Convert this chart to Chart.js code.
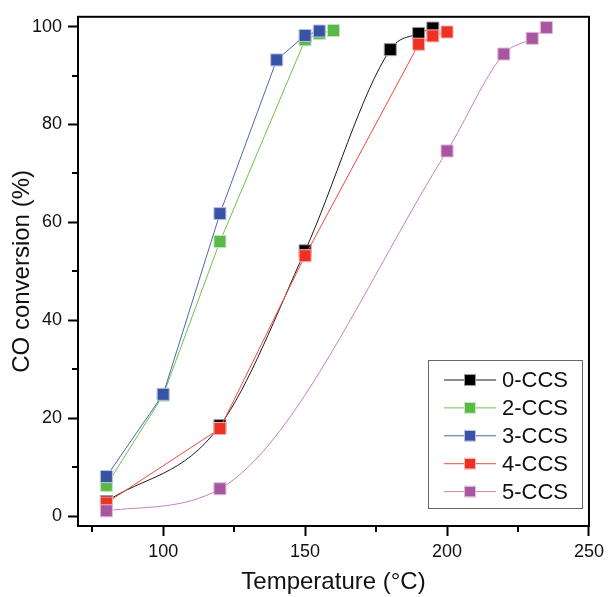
<!DOCTYPE html>
<html>
<head>
<meta charset="utf-8">
<script src="https://cdn.jsdelivr.net/npm/chart.js@4"></script>
<style>
  html, body { margin: 0; padding: 0; background: #fff; }
</style>
</head>
<body>
<canvas id="myChart" width="609" height="597"></canvas>
<script>
// values
const seriesNames = ["0-CCS", "2-CCS", "3-CCS", "4-CCS", "5-CCS"];

const temp0 = [80, 120, 150, 180, 190, 195];
const conv0 = [3.0, 18.5, 54.2, 95.3, 98.6, 99.7];

const temp2 = [80, 100, 120, 150, 155, 160];
const conv2 = [6.3, 24.7, 56.1, 97.3, 98.6, 99.2];

const temp3 = [80, 100, 120, 140, 150, 155];
const conv3 = [8.1, 24.9, 61.8, 93.2, 98.2, 99.1];

const temp4 = [80, 120, 150, 190, 195, 200];
const conv4 = [2.7, 17.9, 53.2, 96.4, 98.1, 98.9];

const temp5 = [80, 120, 200, 220, 230, 235];
const conv5 = [1.1, 5.6, 74.6, 94.4, 97.6, 99.8];

const xTicks = [75, 100, 125, 150, 175, 200, 225, 250];
const yTicks = [0, 10, 20, 30, 40, 50, 60, 70, 80, 90, 100];

const FONT = "'Liberation Sans', Arial, sans-serif";

const toPoints = (xs, ys) => xs.map((x, i) => ({ x, y: ys[i] }));

const makeSet = (label, xs, ys, lineColor, markColor, edgeColor, smooth, order) => ({
  label,
  data: toPoints(xs, ys),
  borderColor: lineColor,
  borderWidth: 1,
  backgroundColor: markColor,
  pointBackgroundColor: markColor,
  pointBorderColor: edgeColor,
  pointBorderWidth: 1,
  pointStyle: "rect",
  pointRadius: 8.5,
  pointHoverRadius: 8.5,
  tension: smooth ? 0.4 : 0,
  cubicInterpolationMode: smooth ? "monotone" : "default",
  order
});

const datasets = [
  makeSet(seriesNames[0], temp0, conv0, "#1a1a1a", "#000000", "#9a9a9a", true, 5),
  makeSet(seriesNames[1], temp2, conv2, "#6cc24a", "#5bb947", "#c6e6bb", false, 4),
  makeSet(seriesNames[2], temp3, conv3, "#4f66b0", "#3953a4", "#b9c3e2", false, 3),
  makeSet(seriesNames[3], temp4, conv4, "#f04a3e", "#ee3124", "#f8b5b0", false, 2),
  makeSet(seriesNames[4], temp5, conv5, "#c77fc3", "#a8569f", "#dcbcd8", true, 1)
];

// frame around plot, short minor ticks, legend box inside the plot
const framePlugin = {
  id: "frame",
  afterDraw(chart) {
    const { ctx, chartArea: a, scales } = chart;
    ctx.save();
    ctx.strokeStyle = "#000";
    ctx.lineWidth = 2;
    ctx.strokeRect(a.left, a.top, a.right - a.left, a.bottom - a.top);

    xTicks.filter(v => v % 50 !== 0).forEach(v => {
      const px = Math.round(scales.x.getPixelForValue(v));
      ctx.beginPath(); ctx.moveTo(px, a.bottom); ctx.lineTo(px, a.bottom + 6); ctx.stroke();
    });
    yTicks.filter(v => v % 20 !== 0).forEach(v => {
      const py = Math.round(scales.y.getPixelForValue(v));
      ctx.beginPath(); ctx.moveTo(a.left, py); ctx.lineTo(a.left - 6, py); ctx.stroke();
    });

    // legend
    const lx = 428, ly = 360, lw = 154, lh = 148;
    ctx.fillStyle = "#fff";
    ctx.fillRect(lx, ly, lw, lh);
    ctx.strokeStyle = "#666";
    ctx.lineWidth = 1;
    ctx.strokeRect(lx + 0.5, ly + 0.5, lw, lh);
    ctx.font = "22px " + FONT;
    ctx.textBaseline = "middle";
    ctx.textAlign = "left";
    chart.data.datasets.forEach((ds, i) => {
      const y = ly + 20 + i * 27.9;
      ctx.strokeStyle = ds.borderColor;
      ctx.lineWidth = 1;
      ctx.beginPath(); ctx.moveTo(444, y); ctx.lineTo(496, y); ctx.stroke();
      ctx.fillStyle = ds.pointBackgroundColor;
      ctx.fillRect(465, y - 5, 10, 10);
      ctx.strokeStyle = ds.pointBorderColor;
      ctx.strokeRect(464.5, y - 5.5, 11, 11);
      ctx.fillStyle = "#111";
      ctx.fillText(ds.label, 502, y + 1);
    });
    ctx.restore();
  }
};

new Chart(document.getElementById("myChart").getContext("2d"), {
  type: "line",
  data: { datasets },
  plugins: [framePlugin],
  options: {
    responsive: false,
    animation: false,
    layout: { padding: { top: 12, right: 16, left: 0, bottom: 0 } },
    plugins: {
      legend: { display: false },
      tooltip: { enabled: false }
    },
    scales: {
      x: {
        type: "linear",
        min: 70,
        max: 250,
        afterBuildTicks: s => { s.ticks = xTicks.map(v => ({ value: v })); },
        afterFit: s => { s.height = 71; },
        border: { display: false },
        grid: {
          drawOnChartArea: false,
          drawTicks: true,
          tickLength: 10,
          tickWidth: 2,
          tickColor: c => (c.tick && c.tick.value % 50 === 0 ? "#000" : "rgba(0,0,0,0)")
        },
        ticks: {
          padding: 5,
          maxRotation: 0,
          autoSkip: false,
          color: "#111",
          font: { family: FONT, size: 18 },
          callback: v => (v % 50 === 0 ? v : "")
        },
        title: {
          display: true,
          text: "Temperature (°C)",
          color: "#111",
          font: { family: FONT, size: 24 },
          padding: { top: 0, bottom: 0 }
        }
      },
      y: {
        min: -2,
        max: 102,
        afterBuildTicks: s => { s.ticks = yTicks.map(v => ({ value: v })); },
        afterFit: s => { s.width = 78; },
        border: { display: false },
        grid: {
          drawOnChartArea: false,
          drawTicks: true,
          tickLength: 10,
          tickWidth: 2,
          tickColor: c => (c.tick && c.tick.value % 20 === 0 ? "#000" : "rgba(0,0,0,0)")
        },
        ticks: {
          padding: 6,
          autoSkip: false,
          color: "#111",
          font: { family: FONT, size: 18 },
          callback: v => (v % 20 === 0 ? v : "")
        },
        title: {
          display: true,
          text: "CO conversion (%)",
          color: "#111",
          font: { family: FONT, size: 24 },
          padding: { top: 8, bottom: 0 }
        }
      }
    }
  }
});
</script>
</body>
</html>
